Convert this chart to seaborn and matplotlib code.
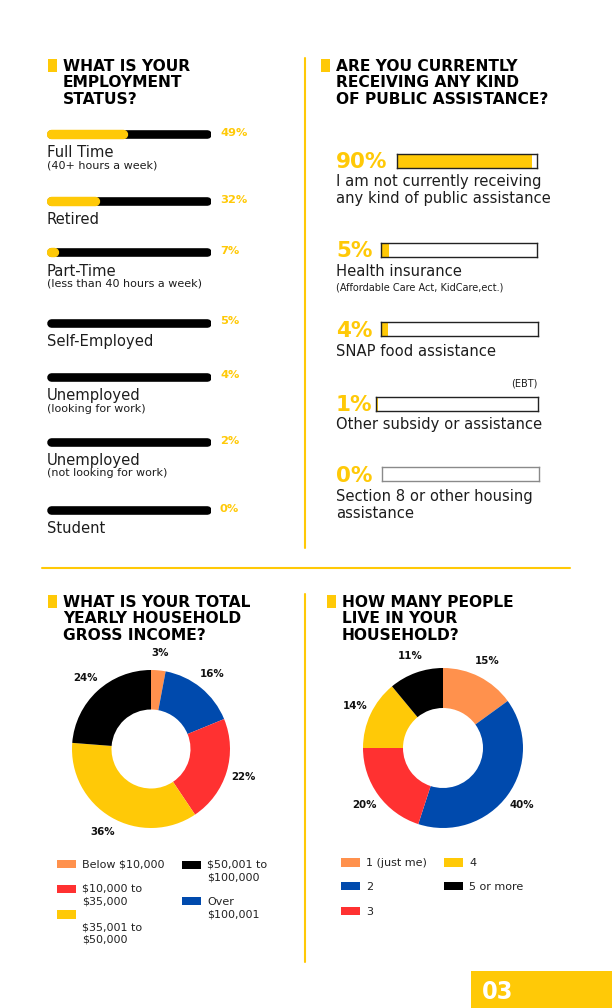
import seaborn as sns
import matplotlib.pyplot as plt
import pandas as pd

W, H = 612, 1008
YELLOW = '#FFC907'
INK = '#1d1d1d'

# employment status
emp_status = ['Full Time', 'Retired', 'Part-Time', 'Self-Employed',
              'Unemployed', 'Unemployed', 'Student']
emp_note = ['(40+ hours a week)', '', '(less than 40 hours a week)', '',
            '(looking for work)', '(not looking for work)', '']
emp_pct = [49, 32, 7, 5, 4, 2, 0]

# public assistance
aid_type = ['I am not currently receiving\nany kind of public assistance',
            'Health insurance', 'SNAP food assistance',
            'Other subsidy or assistance',
            'Section 8 or other housing\nassistance']
aid_note = ['', '(Affordable Care Act, KidCare,ect.)', '(EBT)', '', '']
aid_pct = [90, 5, 4, 1, 0]

# yearly household income, clockwise from the top
income = ['Below $10,000', 'Over\n$100,001', '$10,000 to\n$35,000',
          '$35,001 to\n$50,000', '$50,001 to\n$100,000']
income_pct = [3, 16, 22, 36, 24]
income_colors = ['#FF914D', '#004AAD', '#FF3131', '#FFC907', '#000000']

# people in household, clockwise from the top
household = ['1 (just me)', '2', '3', '4', '5 or more']
household_pct = [15, 40, 20, 14, 11]
household_colors = ['#FF914D', '#004AAD', '#FF3131', '#FFC907', '#000000']

sns.set_theme(style='white')
plt.rcParams['font.family'] = ['DejaVu Sans']

fig = plt.figure(figsize=(W / 100, H / 100), dpi=100)
bg = fig.add_axes([0, 0, 1, 1])
bg.set_xlim(0, W)
bg.set_ylim(H, 0)
bg.axis('off')


def px_axes(x0, y0, x1, y1):
    return fig.add_axes([x0 / W, 1 - y1 / H, (x1 - x0) / W, (y1 - y0) / H])


def put(x, y, s, size, weight='normal', color=INK, step=None, **kw):
    step = step or size * 1.75
    for i, line in enumerate(s.split('\n')):
        bg.text(x, y + i * step, line, fontsize=size, fontweight=weight,
                color=color, va='baseline', **kw)


def heading(x, y, s):
    bg.add_patch(plt.Rectangle((x - 15, y - 12), 9, 13, color=YELLOW, lw=0))
    put(x, y, s, 11.2, 'bold', '#000000', step=16.3)


# frame lines
bg.plot([305, 305], [58, 548], color=YELLOW, lw=1.5)
bg.plot([305, 305], [594, 962], color=YELLOW, lw=1.5)
bg.plot([42, 570], [568, 568], color=YELLOW, lw=1.5)

# ---- employment status ----
heading(63, 71, 'WHAT IS YOUR\nEMPLOYMENT\nSTATUS?')
emp_y = [133.5, 201, 252, 322.5, 376.5, 441.5, 509.5]
ax = px_axes(47, 0, 211, H)
ax.set_xlim(0, 100)
ax.set_ylim(H, 0)
ax.axis('off')
bar_lw = 6.2
r = bar_lw * 100 / 72 / 2 / 164 * 100
for y, v, name, note in zip(emp_y, emp_pct, emp_status, emp_note):
    ax.plot([r, 100 - r], [y, y], color='black', lw=bar_lw,
            solid_capstyle='round')
    if v > 0:
        ax.plot([r, max(v - r, r)], [y, y], color=YELLOW, lw=bar_lw + 0.6,
                solid_capstyle='round')
    bg.text(220, y - 1, f'{v}%', fontsize=8.2, fontweight='bold',
            color=YELLOW, va='center')
    put(47, y + 23.5, name, 10.6)
    if note:
        put(47, y + 35, note, 8)

# ---- public assistance ----
heading(336, 71, 'ARE YOU CURRENTLY\nRECEIVING ANY KIND\nOF PUBLIC ASSISTANCE?')
aid_box = [(397, 154, 537, 168), (381, 243, 537, 257), (381, 322, 538, 336),
           (376, 397, 538, 411), (382, 467, 539, 481)]
aid_base = [167.5, 257, 337, 411, 482]
for (x0, y0, x1, y1), base, v, name, note in zip(aid_box, aid_base, aid_pct,
                                                  aid_type, aid_note):
    bg.text(336, base, f'{v}%', fontsize=15.5, fontweight='bold',
            color=YELLOW, va='baseline')
    bax = px_axes(x0, y0, x1, y1)
    sns.barplot(x=[v], y=[name], color=YELLOW, width=1, linewidth=0,
                saturation=1, ax=bax)
    bax.set_xlim(0, 93)
    bax.set_ylim(0.5, -0.5)
    bax.set(xlabel='', ylabel='', xticks=[], yticks=[])
    for sp in bax.spines.values():
        sp.set_linewidth(1)
        sp.set_color('#8a8a8a' if v == 0 else '#222222')
    put(336, base + 18.5, name, 10.6, step=17)
    if note == '(EBT)':
        put(537, base + 49, note, 7, ha='right')
    elif note:
        put(336, base + 33.5, note, 7)

# ---- donuts ----
def donut(cx, cy, R, values, colors):
    s = R * 2.5
    dax = px_axes(cx - s / 2, cy - s / 2, cx + s / 2, cy + s / 2)
    dax.pie(values, colors=colors, startangle=90, counterclock=False,
            wedgeprops=dict(width=0.5, linewidth=0), autopct='%.0f%%',
            pctdistance=1.22,
            textprops=dict(fontsize=7.4, fontweight='bold', color='#111111'))
    dax.set_xlim(-1.25, 1.25)
    dax.set_ylim(-1.25, 1.25)


heading(63, 607, 'WHAT IS YOUR TOTAL\nYEARLY HOUSEHOLD\nGROSS INCOME?')
donut(151, 749, 79, income_pct, income_colors)

heading(342, 607, 'HOW MANY PEOPLE\nLIVE IN YOUR\nHOUSEHOLD?')
donut(443, 748, 80, household_pct, household_colors)


# legends: (category index, patch x, patch centre y, first text baseline)
def legend(names, colors, slots):
    for i, x, py, ty in slots:
        bg.add_patch(plt.Rectangle((x, py - 4.3), 19, 8.6, color=colors[i],
                                   lw=0))
        put(x + 25, ty, names[i], 8, color='#222222', step=12.8)


legend(income, income_colors,
       [(0, 57, 864, 867.5), (2, 57, 889, 891.5), (3, 57, 914.5, 930),
        (4, 182, 865, 867.5), (1, 182, 901, 905)])
legend(household, household_colors,
       [(0, 341, 862.5, 866), (1, 341, 886, 890), (2, 341, 911, 915),
        (3, 444, 862.5, 866), (4, 444, 886, 890)])

# page number
bg.add_patch(plt.Rectangle((471, 971), W - 471, H - 971, color=YELLOW, lw=0))
bg.text(482, 999, '03', fontsize=18, fontweight='bold', color='white',
        va='baseline', fontstretch='condensed')

fig.savefig('out.png', dpi=100)
